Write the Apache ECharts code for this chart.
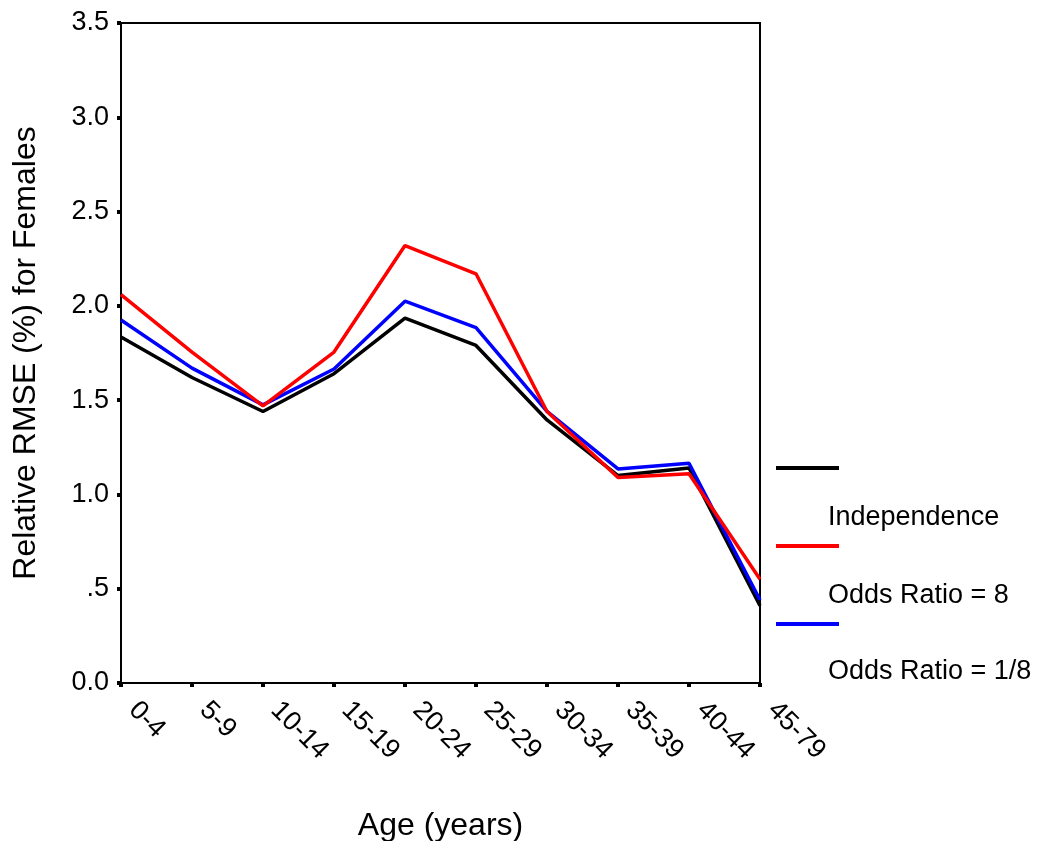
<!DOCTYPE html>
<html>
<head>
<meta charset="utf-8">
<script src="https://cdn.jsdelivr.net/npm/echarts@6/dist/echarts.min.js"></script>
<style>
html,body{margin:0;padding:0;background:#fff;}
#chart{width:1040px;height:841px;}
</style>
</head>
<body>
<div id="chart"></div>
<script>
var categories = ['0-4','5-9','10-14','15-19','20-24','25-29','30-34','35-39','40-44','45-79'];
var independence = [1.835, 1.62, 1.44, 1.64, 1.935, 1.79, 1.395, 1.10, 1.14, 0.41];
var oddsRatio8   = [2.06, 1.755, 1.47, 1.755, 2.32, 2.17, 1.44, 1.09, 1.11, 0.55];
var oddsRatio18  = [1.925, 1.67, 1.475, 1.665, 2.025, 1.885, 1.44, 1.135, 1.165, 0.44];
var seriesNames = ['Independence', 'Odds Ratio = 8', 'Odds Ratio = 1/8'];
var seriesColors = ['#000000', '#ff0000', '#0000ff'];
var yTickLabels = {0:'0.0', 0.5:'.5', 1:'1.0', 1.5:'1.5', 2:'2.0', 2.5:'2.5', 3:'3.0', 3.5:'3.5'};

var FONT = "'Liberation Sans', Arial, sans-serif";
var chart = echarts.init(document.getElementById('chart'), null, {renderer:'canvas'});

var seriesData = [independence, oddsRatio8, oddsRatio18];
var series = seriesData.map(function(d, i){
  return {
    name: seriesNames[i], type: 'line', data: d, symbol: 'none',
    lineStyle: {color: seriesColors[i], width: 3.5},
    itemStyle: {color: seriesColors[i]},
    z: [2,4,3][i]
  };
});

// legend drawn as graphic: line then label below it
var legendGraphics = [];
var lineYs = [468, 546, 624];
var textYs = [518, 596, 672];
for (var i = 0; i < 3; i++) {
  legendGraphics.push({
    type: 'line', shape: {x1: 776, y1: lineYs[i], x2: 839, y2: lineYs[i]},
    style: {stroke: seriesColors[i], lineWidth: 4}
  });
  legendGraphics.push({
    type: 'text', x: 828, y: textYs[i],
    style: {text: seriesNames[i], fill: '#000', font: '27px ' + FONT, textVerticalAlign: 'middle', textAlign: 'left'}
  });
}

chart.setOption({
  animation: false,
  backgroundColor: '#fff',
  grid: {left: 121, right: 280, top: 23, bottom: 158, outerBoundsMode: 'none', containLabel: false,
         show: true, borderColor: '#000', borderWidth: 2, backgroundColor: 'transparent'},
  xAxis: {
    type: 'category', data: categories, boundaryGap: false,
    name: 'Age (years)', nameLocation: 'middle', nameGap: 127,
    nameTextStyle: {fontFamily: FONT, fontSize: 32, color: '#000'},
    axisLine: {lineStyle: {color: '#000', width: 2}},
    axisTick: {show: true, length: 4, lineStyle: {color: '#000', width: 4}, alignWithLabel: true},
    axisLabel: {rotate: -45, margin: 11, padding: [0,0,0,17], fontFamily: FONT, fontSize: 27, color: '#000', interval: 0},
    splitLine: {show: false}
  },
  yAxis: {
    type: 'value', min: 0, max: 3.5, interval: 0.5,
    name: 'Relative RMSE (%) for Females', nameLocation: 'middle', nameGap: 79,
    nameTextStyle: {fontFamily: FONT, fontSize: 32, color: '#000'},
    axisLine: {show: true, lineStyle: {color: '#000', width: 2}},
    axisTick: {show: true, length: 4, lineStyle: {color: '#000', width: 4}},
    axisLabel: {margin: 12, fontFamily: FONT, fontSize: 27, color: '#000',
      formatter: function(v){ return yTickLabels[v] !== undefined ? yTickLabels[v] : String(v); }},
    splitLine: {show: false}
  },
  series: series,
  graphic: legendGraphics
});
</script>
</body>
</html>
